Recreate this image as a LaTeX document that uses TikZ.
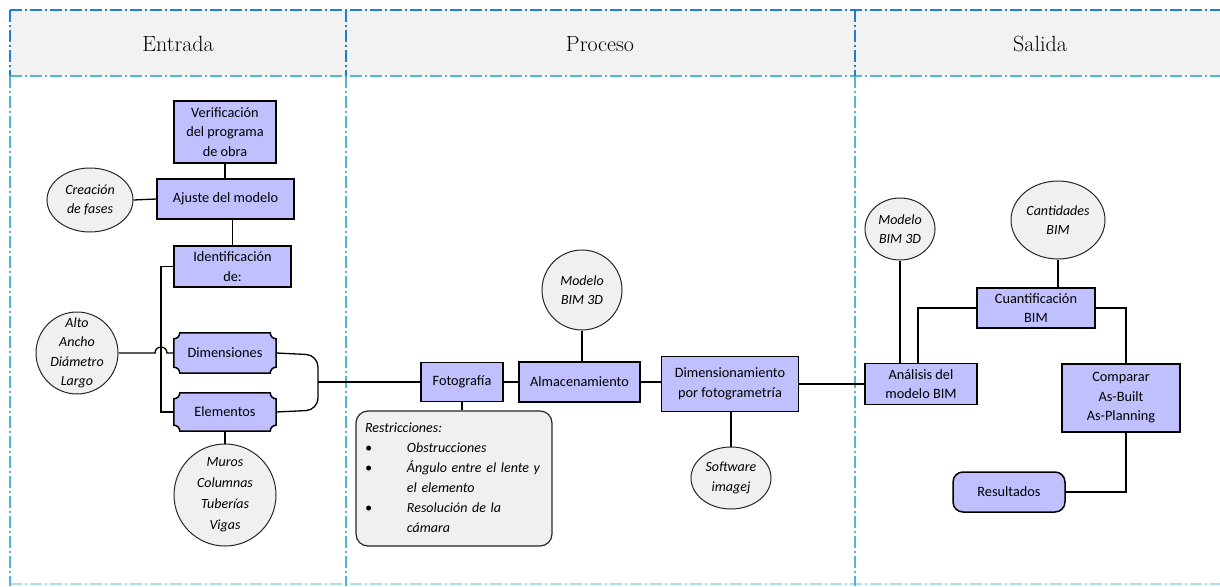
\documentclass[tikz,border=0pt]{standalone}
\usepackage{fontspec}
\setsansfont{Carlito}
\usetikzlibrary{arrows.meta,calc,positioning,shapes.geometric,backgrounds}
\newcommand{\XColA}{10}
\newcommand{\XColB}{346}
\newcommand{\XColC}{855}
\newcommand{\XRight}{1220}
\newcommand{\YTop}{10}
\newcommand{\YHead}{76}
\newcommand{\YBottom}{584}
\newcommand{\XBus}{161}
\newcommand{\XJoin}{318}
\newcommand{\YMain}{382}
\newcommand{\PlaqueR}{6pt}
\definecolor{boxFill}{RGB}{192,192,255}
\definecolor{ovalFill}{RGB}{240,240,240}
\definecolor{headFill}{RGB}{242,242,242}
\definecolor{frameBlue}{RGB}{35,125,205}
\definecolor{frameCyan}{RGB}{80,182,212}
\colorlet{wireColor}{black}
\newcommand{\PlaqueBox}[1]{%
  % #1=node name, box with concave corners drawn behind it
  \draw[plaque] ([xshift=\PlaqueR]#1.north west)
    -- ([xshift=-\PlaqueR]#1.north east)
    arc[start angle=180, end angle=270, radius=\PlaqueR]
    -- ([yshift=\PlaqueR]#1.south east)
    arc[start angle=90, end angle=180, radius=\PlaqueR]
    -- ([xshift=\PlaqueR]#1.south west)
    arc[start angle=0, end angle=90, radius=\PlaqueR]
    -- ([yshift=-\PlaqueR]#1.north west)
    arc[start angle=270, end angle=360, radius=\PlaqueR]
    -- cycle;
}

\begin{document}
\begin{tikzpicture}[
  x=1pt, y=-1pt,
  headtxt/.style = {font=\fontsize{22}{26}\selectfont},
  box/.style     = {rectangle, draw=black, line width=1.5pt, fill=boxFill,
                    inner sep=2pt, align=center,
                    font=\sffamily\fontsize{14.3}{19.5}\selectfont},
  plaquetxt/.style = {rectangle, inner sep=0pt, align=center,
                    font=\sffamily\fontsize{14.3}{19.5}\selectfont},
  plaque/.style  = {draw=black, line width=1.5pt, fill=boxFill},
  oval/.style    = {ellipse, draw=black!85, line width=1pt, fill=ovalFill,
                    inner sep=0pt, align=center,
                    font=\sffamily\itshape\fontsize{14}{19.5}\selectfont},
  disc/.style    = {oval, circle},
  notebox/.style = {rectangle, rounded corners=12pt, draw=black!85, line width=1.2pt,
                    fill=ovalFill, inner xsep=9pt, inner ysep=0pt, text width=178pt,
                    font=\sffamily\itshape\fontsize{14}{20}\selectfont},
  wire/.style    = {wireColor, line width=1.3pt},
  frameline/.style = {line width=1.3pt, dash pattern=on 12pt off 3pt on 2pt off 3pt},
]
\useasboundingbox (0,0) rectangle (1220,586);

% ----------------------------------------------------------------
% Header band and column frame
% ----------------------------------------------------------------
\fill[headFill] (\XColA,\YTop) rectangle (\XRight,\YHead);
\draw[frameline, frameBlue] (\XColA,\YTop) -- (\XRight,\YTop);
\draw[frameline, frameCyan] (\XColA,\YHead) -- (\XRight,\YHead);
\draw[frameline, frameCyan!45] (\XColA,\YBottom) -- (\XRight,\YBottom);
\foreach \xx in {\XColA,\XColB,\XColC}{%
  \draw[frameline, frameBlue] (\xx,\YTop) -- (\xx,\YHead);
  \draw[frameline, frameCyan] (\xx,\YHead) -- (\xx,586);
}

\node[headtxt] (hEntrada) at (178,44) {Entrada};
\node[headtxt] (hProceso) at (600,44) {Proceso};
\node[headtxt] (hSalida)  at (1040,44) {Salida};

% ----------------------------------------------------------------
% Entrada
% ----------------------------------------------------------------
\node[box, minimum width=102pt, minimum height=62pt] (verif) at (225,132)
  {Verificación\\del programa\\de obra};
\node[box, minimum width=137pt, minimum height=40pt] (ajuste) at (225.5,199)
  {Ajuste del modelo};
\node[oval, minimum width=86pt, minimum height=64pt] (fases) at (90,200)
  {Creación\\de fases};
\node[box, minimum width=117pt, minimum height=41pt] (ident) at (232.5,266.5)
  {Identificación\\de:};
\node[disc, minimum size=82pt, inner sep=-4pt] (medidas) at (77,353)
  {Alto\\Ancho\\Diámetro\\Largo};
\node[plaquetxt, minimum width=102pt, minimum height=40pt] (dim) at (225,353)
  {Dimensiones};
\node[plaquetxt, minimum width=102pt, minimum height=38pt] (elem) at (225,412)
  {Elementos};
\node[disc, minimum size=102pt, font=\sffamily\itshape\fontsize{14}{21}\selectfont]
  (tipos) at (225,495) {Muros\\Columnas\\Tuberías\\Vigas};

\begin{pgfonlayer}{background}
  \PlaqueBox{dim}
  \PlaqueBox{elem}
\end{pgfonlayer}

% ----------------------------------------------------------------
% Proceso
% ----------------------------------------------------------------
\node[box, minimum width=82pt, minimum height=39pt] (foto) at (462,\YMain)
  {Fotografía};
\node[box, minimum width=121pt, minimum height=40pt] (almac) at (579.5,\YMain)
  {Almacenamiento};
\node[disc, minimum size=80pt] (modelo) at (582,290) {Modelo\\BIM 3D};
\node[box, minimum width=137pt, minimum height=55pt] (dimfoto) at (730,384)
  {Dimensionamiento\\por fotogrametría};
\node[oval, minimum width=80pt, minimum height=62pt] (software) at (731,478)
  {Software\\imagej};
\node[notebox, minimum height=135pt] (restric) at (454,478.5)
  {\noindent\begin{tabular}{@{}l@{\hspace{35pt}}l@{}}
    \multicolumn{2}{@{}l}{Restricciones:}\\
    \textbullet & Obstrucciones\\
    \textbullet & Ángulo entre el lente y\\
                & el elemento\\
    \textbullet & Resolución de la\\
                & cámara
   \end{tabular}};

% ----------------------------------------------------------------
% Salida
% ----------------------------------------------------------------
\node[box, minimum width=112pt, minimum height=41pt] (analisis) at (921,384)
  {Análisis del\\modelo BIM};
\node[oval, minimum width=70pt, minimum height=62pt] (modeloR) at (900,229)
  {Modelo\\BIM 3D};
\node[box, minimum width=118pt, minimum height=40pt] (cuant) at (1036,308)
  {Cuantificación\\BIM};
\node[oval, minimum width=94pt, minimum height=78pt] (cantid) at (1058,220)
  {Cantidades\\BIM};
\node[box, minimum width=118pt, minimum height=68pt] (comparar) at (1121,398)
  {Comparar\\As-Built\\As-Planning};
\node[box, rounded corners=10pt, minimum width=112pt, minimum height=40pt]
  (result) at (1009,492) {Resultados};

% ----------------------------------------------------------------
% Connections
% ----------------------------------------------------------------
\draw[wire] (verif.south) -- (verif.south |- ajuste.north);
\draw[wire] (fases.east) -- (ajuste.west);
\draw[wire] (ident.north) -- (ident.north |- ajuste.south);
\draw[wire] (ident.west) -- (\XBus,266.5) |- (elem.west);
\draw[wire] (medidas.east) -- (\XBus-6,353)
  arc[start angle=180, end angle=0, radius=6pt] -- (dim.west);
\draw[wire] (tipos.north) -- (tipos.north |- elem.south);

\coordinate (join) at (\XJoin,\YMain);
\draw[wire, rounded corners=12pt] (dim.east) -- (\XJoin,355)
  -- (\XJoin,410) -- (elem.east);
\draw[wire] (join) -- (foto.west);

\draw[wire] (foto.east) -- (almac.west);
\draw[wire] (modelo.south) -- (modelo.south |- almac.north);
\draw[wire] (almac.east) -- (almac.east -| dimfoto.west);
\draw[wire] (foto.south) -- (foto.south |- restric.north);
\draw[wire] (software.north) -- (software.north |- dimfoto.south);
\draw[wire] (dimfoto.east) -- (dimfoto.east -| analisis.west);

\draw[wire] (modeloR.south) -- (modeloR.south |- analisis.north);
\draw[wire] (cuant.west) -| ([xshift=-3pt]analisis.north);
\draw[wire] (cantid.south) -- (cantid.south |- cuant.north);
\draw[wire] (cuant.east) -| ([xshift=5pt]comparar.north);
\draw[wire] ([xshift=5pt]comparar.south) |- (result.east);

\end{tikzpicture}
\end{document}
